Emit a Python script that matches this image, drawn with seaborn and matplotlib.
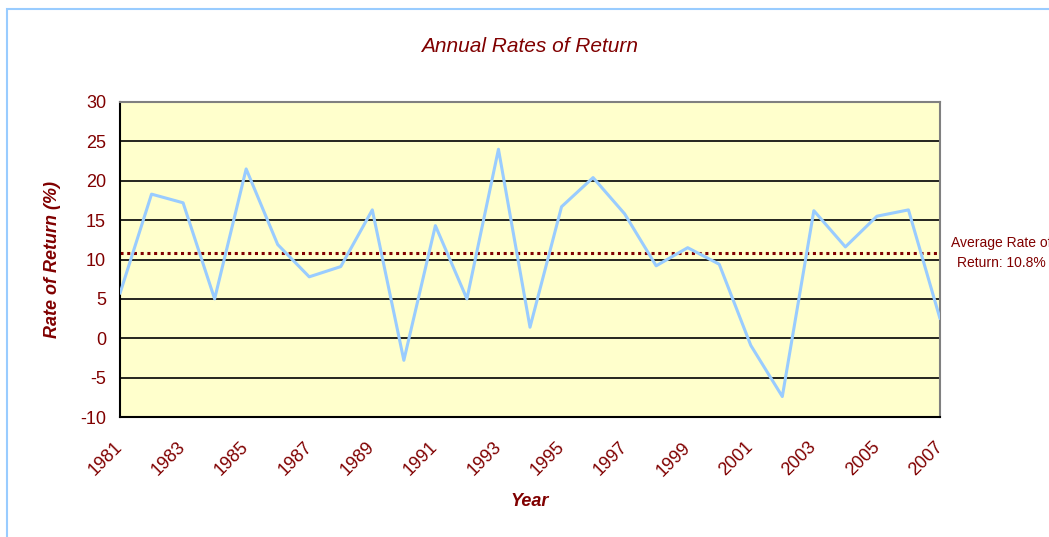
import pandas as pd
import seaborn as sns
import matplotlib.pyplot as plt
from matplotlib.patches import Rectangle

# data
years = list(range(1981, 2008))
returns = [5.7, 18.3, 17.2, 5.0, 21.5, 11.9, 7.8, 9.1, 16.3, -2.8,
           14.3, 5.0, 24.0, 1.4, 16.7, 20.4, 15.8, 9.2, 11.5, 9.4,
           -0.9, -7.4, 16.2, 11.6, 15.5, 16.3, 2.5]
avg_return = 10.8
y_ticks = list(range(-10, 31, 5))
x_ticks = list(range(1981, 2008, 2))

df = pd.DataFrame({'Year': years, 'Return': returns})

red = '#800000'
sns.set_style('white')
plt.rcParams['font.family'] = ['Liberation Sans', 'DejaVu Sans']
plt.rcParams['axes.unicode_minus'] = False

fig = plt.figure(figsize=(10.49, 5.37), dpi=100)
ax = fig.add_axes([120 / 1049, 1 - 417 / 537, 820 / 1049, 315 / 537])
ax.set_facecolor('#FFFFCC')

# light blue chart frame
fig.patches.append(Rectangle((7 / 1049, -0.1), 1.2, 1 - 9 / 537 + 0.1,
                             transform=fig.transFigure, fill=False,
                             edgecolor='#99CCFF', linewidth=1.5))

for y in y_ticks[1:-1]:
    ax.axhline(y, color='black', linewidth=1.2, zorder=1)

sns.lineplot(data=df, x='Year', y='Return', color='#99CCFF', linewidth=2.2, ax=ax, zorder=3)
ax.axhline(avg_return, color=red, linestyle=(0, (1, 1.2)), linewidth=2.2, zorder=2)

ax.set_xlim(1981, 2007)
ax.set_ylim(-10, 30)
ax.set_yticks(y_ticks)
ax.set_xticks(years, minor=True)
ax.set_xticks(x_ticks)
ax.set_xticklabels([str(x) for x in x_ticks], rotation=45, ha='right',
                   rotation_mode='anchor', va='center')
ax.tick_params(axis='both', which='both', direction='out', length=6, width=1.2,
               colors='black', labelcolor=red, labelsize=13)
ax.tick_params(axis='x', pad=14)
ax.tick_params(axis='y', pad=4)

for side in ['left', 'bottom']:
    ax.spines[side].set_color('black')
    ax.spines[side].set_linewidth(1.5)
for side in ['top', 'right']:
    ax.spines[side].set_color('#808080')
    ax.spines[side].set_linewidth(1.5)

ax.set_title('Annual Rates of Return', color=red, fontsize=15, style='italic', pad=36)
ax.set_xlabel('Year', color=red, fontsize=13, style='italic', weight='bold', labelpad=10)
ax.set_ylabel('Rate of Return (%)', color=red, fontsize=13, style='italic', weight='bold', labelpad=14)

fig.text(1001 / 1049, 1 - 253 / 537, 'Average Rate of\nReturn: 10.8%', color=red,
         fontsize=10, ha='center', va='center', linespacing=1.5)

plt.savefig('out.png', dpi=100)
